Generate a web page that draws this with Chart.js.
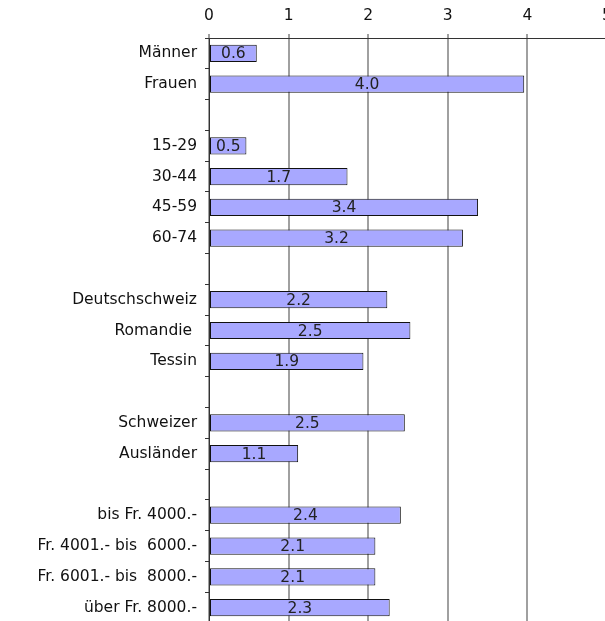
<!DOCTYPE html>
<html>
<head>
<meta charset="utf-8">
<script src="https://cdn.jsdelivr.net/npm/chart.js@4/dist/chart.umd.min.js"></script>
<style>
  html, body { margin: 0; padding: 0; background: #fff; overflow: hidden; }
  canvas { display: block; }
</style>
</head>
<body>
<canvas id="chart" width="607" height="623"></canvas>
<script>
// --- DATA ---
const categories = [
  'Männer', 'Frauen', '',
  '15-29', '30-44', '45-59', '60-74', '',
  'Deutschschweiz', 'Romandie ', 'Tessin', '',
  'Schweizer', 'Ausländer', '',
  'bis Fr. 4000.-', 'Fr. 4001.- bis  6000.-', 'Fr. 6001.- bis  8000.-', 'über Fr. 8000.-'
];
const values = [
  0.60, 3.96, null,
  0.47, 1.74, 3.38, 3.19, null,
  2.24, 2.53, 1.94, null,
  2.46, 1.12, null,
  2.41, 2.09, 2.09, 2.27
];
const xTicks = [0, 1, 2, 3, 4, 5];

const FONT = 'DejaVu Sans, Verdana, sans-serif';
const FONT_SIZE = 15.5;

// no extra room around the plot: the picture is cut at right and bottom
function noPadding(scale) {
  scale.paddingLeft = 0;
  scale.paddingRight = 0;
  scale.paddingTop = 0;
  scale.paddingBottom = 0;
}

// draws the value in the middle of each bar
const barLabels = {
  id: 'barLabels',
  afterDatasetsDraw(chart) {
    const ctx = chart.ctx;
    const meta = chart.getDatasetMeta(0);
    ctx.save();
    ctx.font = FONT_SIZE + 'px ' + FONT;
    ctx.fillStyle = '#222';
    ctx.textAlign = 'center';
    ctx.textBaseline = 'middle';
    meta.data.forEach((bar, i) => {
      const v = values[i];
      if (v === null) return;
      ctx.fillText(v.toFixed(1), (bar.x + bar.base) / 2, bar.y + 1);
    });
    ctx.restore();
  }
};

new Chart(document.getElementById('chart'), {
  type: 'bar',
  data: {
    labels: categories,
    datasets: [{
      data: values,
      backgroundColor: '#a8a8ff',
      borderColor: '#111',
      borderWidth: 1,
      borderSkipped: false,
      categoryPercentage: 1,
      barPercentage: 0.56
    }]
  },
  options: {
    indexAxis: 'y',
    responsive: false,
    animation: false,
    layout: { padding: 0 },
    plugins: {
      legend: { display: false },
      tooltip: { enabled: false }
    },
    scales: {
      x: {
        position: 'top',
        min: 0,
        max: 5,
        afterBuildTicks: (scale) => { scale.ticks = xTicks.map(v => ({ value: v })); },
        afterFit: (scale) => { scale.height = 38; noPadding(scale); },
        grid: { color: '#a0a0a0', lineWidth: 2, tickLength: 4 },
        border: { display: true, color: '#333', width: 1 },
        ticks: { color: '#111', padding: 9, font: { family: FONT, size: FONT_SIZE } }
      },
      y: {
        afterFit: (scale) => { scale.width = 209; noPadding(scale); },
        grid: { drawOnChartArea: false, offset: true, tickLength: 4, color: '#333', lineWidth: 1 },
        border: { display: true, color: '#333', width: 1 },
        ticks: { color: '#111', padding: 8, autoSkip: false, font: { family: FONT, size: FONT_SIZE } }
      }
    }
  },
  plugins: [barLabels]
});
</script>
</body>
</html>
